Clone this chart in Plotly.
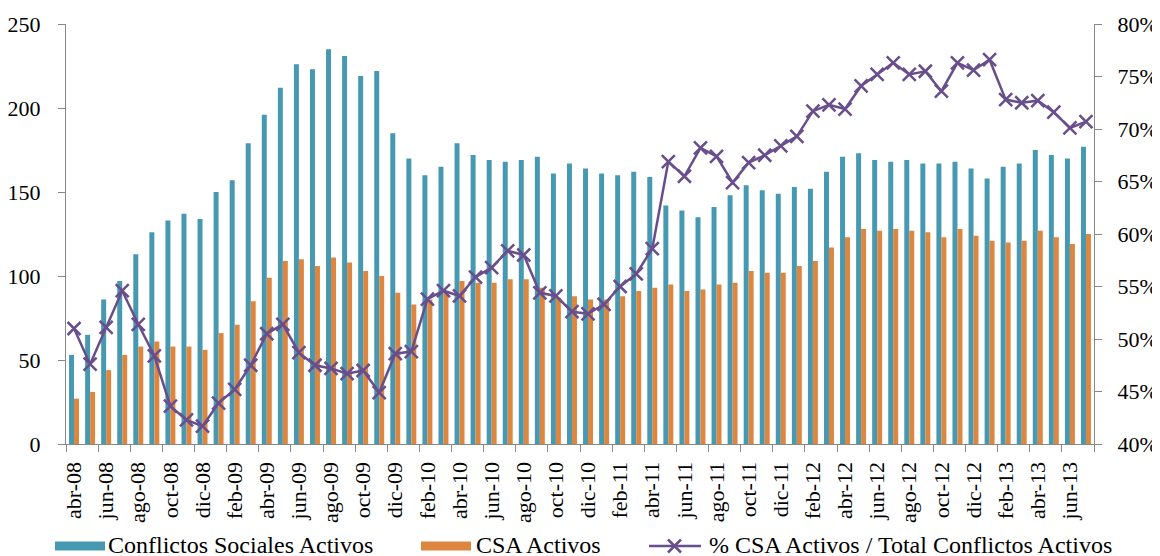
import plotly.graph_objects as go

# meses (abr-08 .. jul-13)
months = [
    "abr-08", "may-08", "jun-08", "jul-08", "ago-08", "sep-08", "oct-08", "nov-08", "dic-08",
    "ene-09", "feb-09", "mar-09", "abr-09", "may-09", "jun-09", "jul-09", "ago-09", "sep-09", "oct-09", "nov-09", "dic-09",
    "ene-10", "feb-10", "mar-10", "abr-10", "may-10", "jun-10", "jul-10", "ago-10", "sep-10", "oct-10", "nov-10", "dic-10",
    "ene-11", "feb-11", "mar-11", "abr-11", "may-11", "jun-11", "jul-11", "ago-11", "sep-11", "oct-11", "nov-11", "dic-11",
    "ene-12", "feb-12", "mar-12", "abr-12", "may-12", "jun-12", "jul-12", "ago-12", "sep-12", "oct-12", "nov-12", "dic-12",
    "ene-13", "feb-13", "mar-13", "abr-13", "may-13", "jun-13", "jul-13",
]

conflictos = [
    53, 65, 86, 97, 113, 126, 133, 137, 134,
    150, 157, 179, 196, 212, 226, 223, 235, 231, 219, 222, 185,
    170, 160, 165, 179, 172, 169, 168, 169, 171, 161, 167, 164,
    161, 160, 162, 159, 142, 139, 135, 141, 148, 154, 151, 149,
    153, 152, 162, 171, 173, 169, 168, 169, 167, 167, 168, 164,
    158, 165, 167, 175, 172, 170, 177,
]

csa = [
    27, 31, 44, 53, 58, 61, 58, 58, 56,
    66, 71, 85, 99, 109, 110, 106, 111, 108, 103, 100, 90,
    83, 86, 90, 97, 96, 96, 98, 98, 93, 87, 88, 86,
    86, 88, 91, 93, 95, 91, 92, 95, 96, 103, 102, 102,
    106, 109, 117, 123, 128, 127, 128, 127, 126, 123, 128, 124,
    121, 120, 121, 127, 123, 119, 125,
]

pct_csa = [
    51.0, 47.6, 51.1, 54.6, 51.4, 48.4, 43.6, 42.3, 41.7,
    43.9, 45.2, 47.5, 50.5, 51.4, 48.7, 47.5, 47.2, 46.7, 47.0, 44.9, 48.6,
    48.8, 53.8, 54.6, 54.1, 55.9, 56.8, 58.4, 58.0, 54.4, 54.1, 52.6, 52.4,
    53.3, 55.0, 56.2, 58.6, 66.9, 65.5, 68.2, 67.4, 64.9, 66.8, 67.5, 68.4,
    69.3, 71.7, 72.3, 71.9, 74.1, 75.2, 76.3, 75.2, 75.5, 73.6, 76.3, 75.6,
    76.6, 72.8, 72.5, 72.7, 71.6, 70.1, 70.7,
]

TEAL = "#4699B0"
ORANGE = "#DD863F"
PURPLE = "#684E8C"
GREY = "#888888"
FONT = "Liberation Serif"

# the page body has an 8px default margin, so the figure is shrunk by it
OFF = 8
W, H = 1160 - OFF, 556 - OFF
# plot area in window pixels: x 66..1094, y 24..444
X0, X1, Y0, Y1 = 66, 1094, 24, 444
PW, PH = X1 - X0, Y1 - Y0


def px(x):
    return (x - X0) / PW


def py(y):
    return (Y1 - y) / PH


fig = go.Figure()
fig.add_trace(go.Bar(x=months, y=conflictos, name="Conflictos Sociales Activos",
                     marker=dict(color=TEAL, line=dict(width=0))))
fig.add_trace(go.Bar(x=months, y=csa, name="CSA Activos",
                     marker=dict(color=ORANGE, line=dict(width=0))))
fig.add_trace(go.Scatter(x=months, y=pct_csa, yaxis="y2", mode="lines+markers",
                         name="% CSA Activos / Total Conflictos Activos",
                         line=dict(color=PURPLE, width=2.5),
                         marker=dict(symbol="x-thin", size=13, line=dict(color=PURPLE, width=2.5))))

# leyenda manual (muestras anchas como en el original)
ly = 546
shapes = [
    dict(type="rect", xref="paper", yref="paper", x0=px(55), x1=px(105), y0=py(550.5), y1=py(541.5),
         fillcolor=TEAL, line=dict(width=0)),
    dict(type="rect", xref="paper", yref="paper", x0=px(421), x1=px(471), y0=py(550.5), y1=py(541.5),
         fillcolor=ORANGE, line=dict(width=0)),
    dict(type="line", xref="paper", yref="paper", x0=px(649), x1=px(701), y0=py(ly), y1=py(ly),
         line=dict(color=PURPLE, width=2.5)),
    dict(type="path", xref="paper", yref="paper",
         path=f"M{px(668)},{py(ly - 6.5)} L{px(681)},{py(ly + 6.5)} M{px(668)},{py(ly + 6.5)} L{px(681)},{py(ly - 6.5)}",
         line=dict(color=PURPLE, width=2.5)),
]
annotations = [
    dict(text="Conflictos Sociales Activos", x=px(107)),
    dict(text="CSA Activos", x=px(475)),
    dict(text="% CSA Activos / Total Conflictos Activos", x=px(708)),
]
for a in annotations:
    a.update(xref="paper", yref="paper", y=py(ly - 1), xanchor="left", yanchor="middle",
             showarrow=False, borderpad=0, font=dict(family=FONT, size=24, color="black"))

fig.update_layout(
    width=W, height=H,
    margin=dict(l=X0 - OFF, r=W - (X1 - OFF), t=Y0 - OFF, b=H - (Y1 - OFF), autoexpand=False),
    plot_bgcolor="white", paper_bgcolor="white",
    font=dict(family=FONT, size=22, color="black"),
    barmode="group", bargap=0.38, bargroupgap=0,
    showlegend=False,
    shapes=shapes, annotations=annotations,
    xaxis=dict(type="category", range=[-0.5, len(months) - 0.5], dtick=2, tick0=0,
               tickson="boundaries", tickangle=-90,
               ticks="outside", ticklen=7, tickcolor=GREY, showline=True, linecolor=GREY, linewidth=1.3,
               showgrid=False, tickfont=dict(size=22), automargin=False, ticklabelstandoff=8),
    yaxis=dict(range=[0, 250], dtick=50, ticks="outside", ticklen=7, tickcolor=GREY,
               showline=True, linecolor=GREY, linewidth=1.3, showgrid=False, zeroline=False,
               ticklabelstandoff=13, automargin=False),
    yaxis2=dict(range=[40, 80], dtick=5, ticksuffix="%", overlaying="y", side="right",
                ticks="outside", ticklen=7, tickcolor=GREY, showline=True, linecolor=GREY,
                linewidth=1.3, showgrid=False, zeroline=False, ticklabelstandoff=11, automargin=False),
)

fig.write_html("out.html")
